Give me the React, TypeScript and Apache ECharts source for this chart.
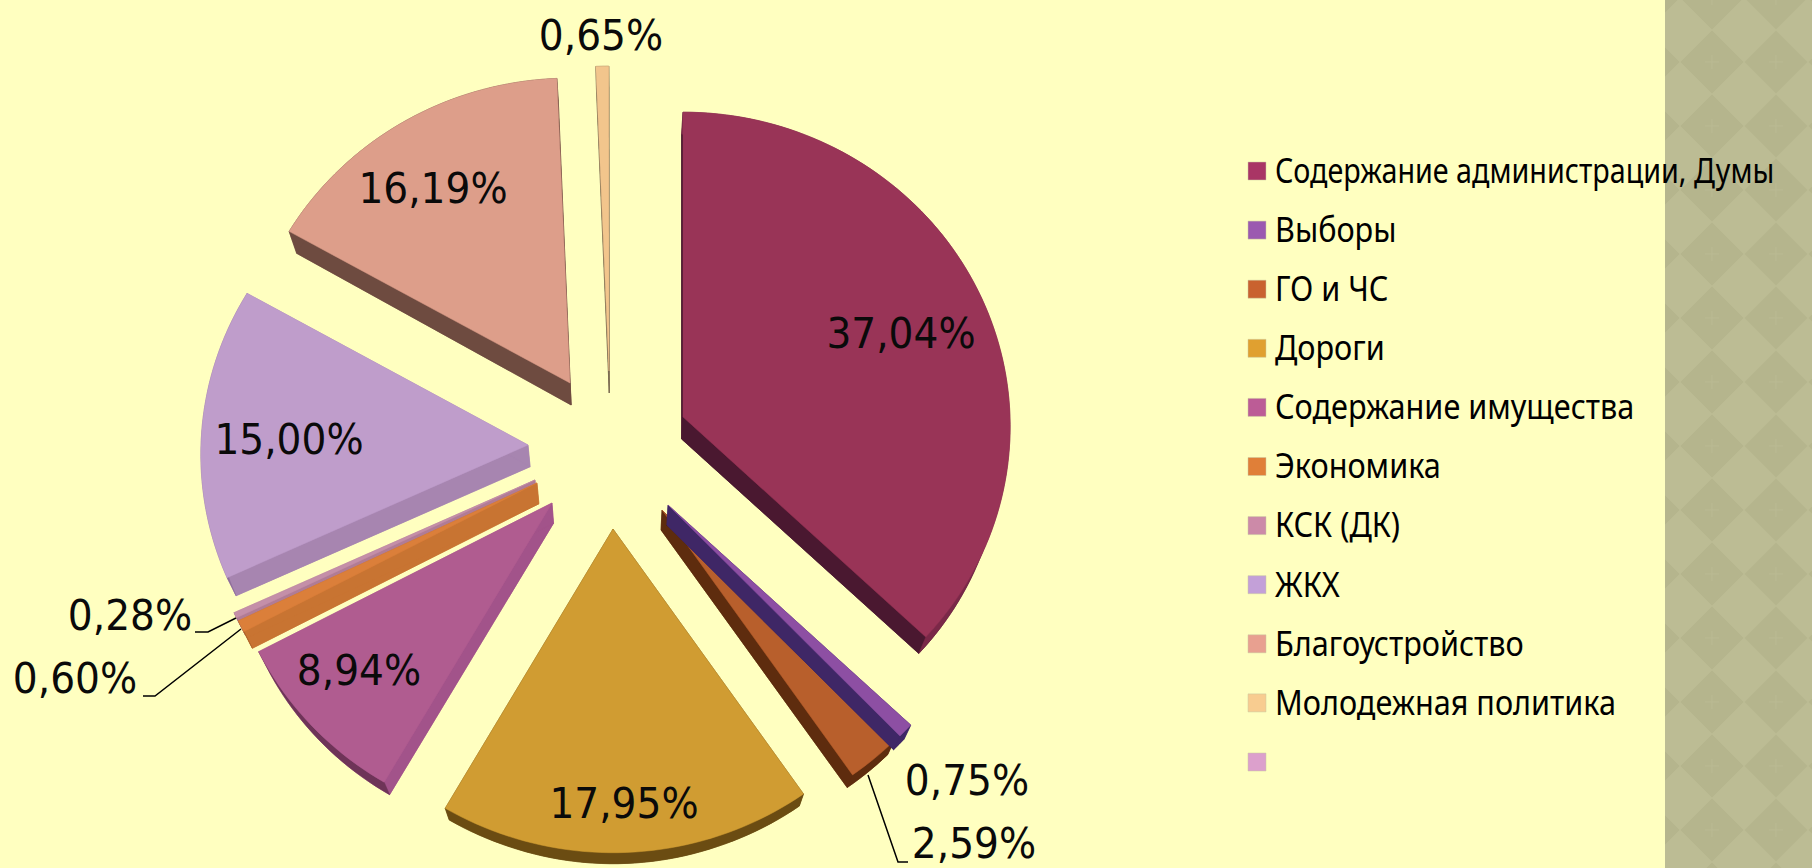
import React, { useEffect, useRef } from "react";
import * as echarts from "echarts";

const categories = ["Содержание администрации, Думы", "Выборы", "ГО и ЧС", "Дороги", "Содержание имущества", "Экономика", "КСК (ДК)", "ЖКХ", "Благоустройство", "Молодежная политика", ""];
const shares = [37.04, 0.75, 2.59, 17.95, 8.94, 0.6, 0.28, 15.0, 16.19, 0.65, 0];
const valueLabels = ["37,04%", "0,75%", "2,59%", "17,95%", "8,94%", "0,60%", "0,28%", "15,00%", "16,19%", "0,65%", ""];

const legendColors = ["#A93565", "#9B59B0", "#C9622F", "#E0A030", "#BC5C96", "#E07F38", "#CC8AA8", "#C3A0D8", "#E8A090", "#F8CC90", "#DCA0CC"];
const topColors = ["#993457", "#8D4FA3", "#B85F2C", "#D09C32", "#B05C90", "#DB7F3A", "#C48FA8", "#BF9DCB", "#DD9E8A", "#F2C58C", "#DCA0CC"];
const sideColors = ["#4A1830", "#3F2766", "#5E2C0E", "#6B4C12", "#A2538A", "#C87432", "#B07C96", "#A785B0", "#6E4B40", "#7A6A50", "#DCA0CC"];
const rimColors = ["#7A2848", "#3F2766", "#5E2C0E", "#6B4C12", "#6E3458", "#A86028", "#A07088", "#8E6E9A", "#6E4B40", "#7A6A50", "#DCA0CC"];

// page layout: pie-slice apexes (exploded), label centres, leader lines
const apexes = [[683, 417], [668, 505], [662, 510], [613, 529], [552, 503], [537, 483], [535, 480], [528, 445], [570, 383], [609, 371], [600, 450]];
const labelCentres = [[901, 333], [967, 780], [974, 843], [624, 803], [359, 670], [75, 678], [130, 615], [289, 439], [433, 188], [601, 35], [0, 0]];
const leaders: Record<number, number[][]> = {
  2: [[868, 775], [898, 862], [908, 862]],
  5: [[143, 696], [155, 696], [241, 629]],
  6: [[195, 632], [208, 632], [236, 618]],
};
const drawOrder = [0, 2, 1, 3, 4, 6, 5, 7, 8, 9, 10];

const RX = 327, RY = 314, K = 0.03;
const BG = "#FFFFC0";
const LABEL_FONT = '"DejaVu Sans Condensed", "DejaVu Sans", sans-serif';
const LEGEND_FONT = '"Noto Sans", sans-serif';
const LEGEND_SCALE = 0.875;
const LEGEND_SCALE_LONG = 0.82;

function project(ax: number, ay: number, deg: number, r = 1) {
  const a = (deg * Math.PI) / 180;
  const u = Math.sin(a) * r, v = -Math.cos(a) * r;
  const s = 1 / (1 - K * v);
  return [ax + RX * u * s, ay + RY * v * s];
}
function extrude(p: number[]) {
  const dy = Math.min(22, Math.max(11, 0.0275 * (1236 - p[1])));
  return [p[0] + (620 - p[0]) * 0.023, p[1] + dy];
}
function poly(points: number[][], fill: string) {
  return { type: "polygon", shape: { points }, style: { fill, stroke: fill, lineWidth: 0.5 } };
}

const renderSlice = (i: number) => (_params: any, api: any) => {
  const val = api.value(0);
  if (!val) return { type: "group", children: [] };
  const start = (shares.slice(0, i).reduce((a, b) => a + b, 0) / 100) * 360;
  const sweep = (val / 100) * 360;
  const [ax, ay] = apexes[i];
  const steps = Math.max(2, Math.ceil(sweep / 1.5));
  const rim: number[][] = [];
  for (let k = 0; k <= steps; k++) rim.push(project(ax, ay, start + (sweep * k) / steps));
  const apex = [ax, ay];
  const rimLow = rim.map(extrude);
  const apexLow = extrude(apex);
  const children: any[] = [
    poly([apexLow, ...rimLow], sideColors[i]),
    poly([apex, rim[0], rimLow[0], apexLow], sideColors[i]),
    poly([apex, rim[steps], rimLow[steps], apexLow], sideColors[i]),
    poly([...rim, ...rimLow.slice().reverse()], rimColors[i]),
    poly([apex, ...rim], topColors[i]),
  ];
  if (leaders[i]) {
    children.push({ type: "polyline", shape: { points: leaders[i] }, style: { stroke: "#000", lineWidth: 1.5, fill: "none" } });
  }
  children.push({
    type: "text",
    style: {
      text: valueLabels[i],
      x: labelCentres[i][0],
      y: labelCentres[i][1],
      align: "center",
      verticalAlign: "middle",
      fontFamily: LABEL_FONT,
      fontSize: 43.5,
      fill: "#0A0A0A",
    },
  });
  return { type: "group", children };
};

function bandGraphics() {
  const out: any[] = [
    { type: "rect", shape: { x: 0, y: 0, width: 1812, height: 868 }, style: { fill: BG }, z: -10 },
    { type: "rect", shape: { x: 1665, y: 0, width: 147, height: 868 }, style: { fill: "#BCBC94" }, z: -9 },
  ];
  for (let cx = 1648; cx < 1850; cx += 64) {
    for (let cy = -2; cy < 900; cy += 64) {
      out.push({ type: "polygon", shape: { points: [[cx, cy - 31.5], [cx + 31.5, cy], [cx, cy + 31.5], [cx - 31.5, cy]] }, style: { fill: "#B5B58D" }, z: -8 });
      if (cx > 1665) {
        out.push({ type: "line", shape: { x1: cx - 7, y1: cy, x2: cx + 7, y2: cy }, style: { stroke: "#BABA93", lineWidth: 1 }, z: -7 });
        out.push({ type: "line", shape: { x1: cx, y1: cy - 7, x2: cx, y2: cy + 7 }, style: { stroke: "#BABA93", lineWidth: 1 }, z: -7 });
      }
    }
  }
  out.push({ type: "rect", shape: { x: 1600, y: 0, width: 65, height: 868 }, style: { fill: BG }, z: -6 });
  return out;
}

function legendGraphics() {
  const out: any[] = [];
  categories.forEach((name, i) => {
    const cy = 171 + i * 59.1;
    out.push({ type: "rect", shape: { x: 1248, y: cy - 9, width: 18, height: 18 }, style: { fill: legendColors[i], stroke: "#C8C8A0", lineWidth: 0.5 }, z: 5 });
    if (name) {
      out.push({
        type: "text",
        x: 1275,
        y: cy - 1.5,
        scaleX: i === 0 ? LEGEND_SCALE_LONG : LEGEND_SCALE,
        style: { text: name, x: 0, y: 0, align: "left", verticalAlign: "middle", fontFamily: LEGEND_FONT, fontSize: 35, fill: "#000" },
        z: 5,
      });
    }
  });
  return out;
}

export default function App() {
  const ref = useRef<HTMLDivElement>(null);
  useEffect(() => {
    document.body.style.margin = "0";
    const chart = echarts.init(ref.current!, undefined, { renderer: "svg" });
    chart.setOption({
      animation: false,
      backgroundColor: BG,
      graphic: { elements: [...bandGraphics(), ...legendGraphics()] },
      series: categories.map((name, i) => ({
        type: "custom",
        name,
        coordinateSystem: "none",
        z: 2 + drawOrder.indexOf(i),
        silent: true,
        itemStyle: { color: legendColors[i] },
        data: [shares[i]],
        renderItem: renderSlice(i),
      })),
    });
    return () => chart.dispose();
  }, []);
  return <div ref={ref} style={{ width: 1812, height: 868 }} />;
}
